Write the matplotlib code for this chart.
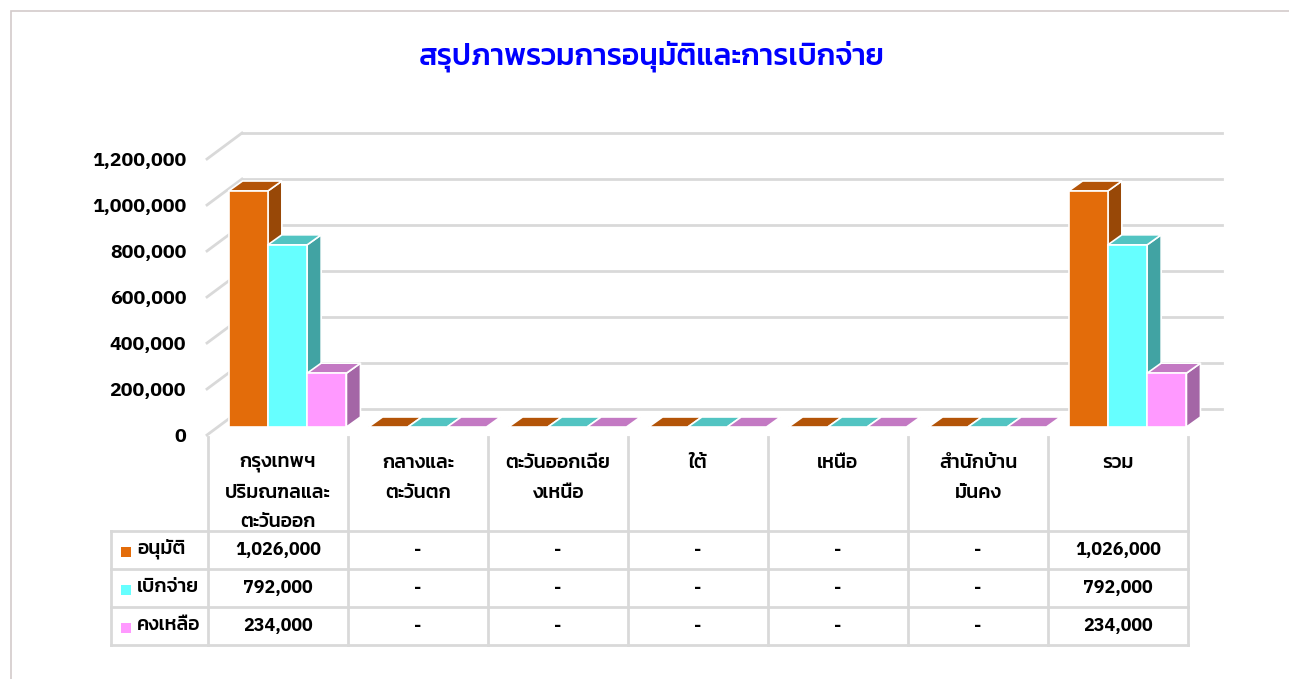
import matplotlib
matplotlib.use("Agg")
import matplotlib.pyplot as plt
from matplotlib.patches import Polygon, Rectangle

# ---- data ----
categories = ["กรุงเทพฯ\nปริมณฑลและ\nตะวันออก", "กลางและ\nตะวันตก",
              "ตะวันออกเฉีย\nงเหนือ", "ใต้", "เหนือ", "สำนักบ้าน\nมั่นคง", "รวม"]
series_names = ["อนุมัติ", "เบิกจ่าย", "คงเหลือ"]
approved = [1026000, 0, 0, 0, 0, 0, 1026000]
disbursed = [792000, 0, 0, 0, 0, 0, 792000]
remaining = [234000, 0, 0, 0, 0, 0, 234000]
yticks = [0, 200000, 400000, 600000, 800000, 1000000, 1200000]
title = "สรุปภาพรวมการอนุมัติและการเบิกจ่าย"

front_colors = ["#E36C0A", "#66FFFF", "#FF99FF"]
top_colors = ["#B35408", "#52C4C2", "#C379C3"]
side_colors = ["#984807", "#41A3A3", "#A466A6"]
grid_color = "#D9D9D9"

thai = ["Kanit", "DejaVu Sans"]
nums = ["IBM Plex Sans Thai", "DejaVu Sans"]
plt.rcParams["font.family"] = nums

W, H = 1289, 679
fig = plt.figure(figsize=(W / 100, H / 100), dpi=100)

# chart border
fig.patches.append(Rectangle((11 / W, -0.1), 1.2, 1 - 11 / H + 0.1, transform=fig.transFigure,
                             fill=False, edgecolor="#D3CBCB", lw=1.2))

fig.text(652 / W, 1 - 56 / H, title, color="#0000FF", fontsize=21.7, fontweight=500,
         family=thai, ha="center", va="center")

# front plane of the 3d plot
ax = fig.add_axes([207 / W, 1 - 435 / H, 980 / W, 276 / H])
ax.set_xlim(-0.5, 6.5)
ax.set_ylim(0, 1200000)
for s in ax.spines.values():
    s.set_visible(False)
ax.set_xticks([])
ax.set_yticks(yticks)
ax.set_yticklabels([f"{v:,}" for v in yticks], fontsize=14, fontweight="bold")
ax.tick_params(axis="y", length=0, pad=15)

px_x = 7 / 980          # category units per pixel
px_y = 1200000 / 276    # value units per pixel
wall_dx, wall_dy = 35 * px_x, 26 * px_y
bar_dx, bar_dy = 14 * px_x, 10 * px_y
off_x, off_y = 10.5 * px_x, 8 * px_y
bw = 39.3 * px_x

# gridlines: left wall diagonal + back wall line
for v in yticks:
    ax.plot([-0.5, -0.5 + wall_dx], [v, v + wall_dy], color=grid_color, lw=2, clip_on=False, zorder=1)
    ax.plot([-0.5 + wall_dx, 6.5 + wall_dx], [v + wall_dy, v + wall_dy], color=grid_color, lw=2,
            clip_on=False, zorder=1)

z = 3
for i in range(len(categories)):
    for j, vals in enumerate([approved, disbursed, remaining]):
        x0 = i + off_x + (j - 1.5) * bw
        h = vals[i]
        bars = ax.bar(x0, h, width=bw, bottom=off_y, align="edge", color=front_colors[j],
                      edgecolor="white", lw=1.2, zorder=z + 2)
        x1 = x0 + bw
        top = off_y + h
        side = Polygon([(x1, off_y), (x1 + bar_dx, off_y + bar_dy), (x1 + bar_dx, top + bar_dy), (x1, top)],
                       closed=True, facecolor=side_colors[j], edgecolor="white", lw=1.2, zorder=z,
                       clip_on=False)
        tp = Polygon([(x0, top), (x1, top), (x1 + bar_dx, top + bar_dy), (x0 + bar_dx, top + bar_dy)],
                     closed=True, facecolor=top_colors[j], edgecolor="white", lw=1.2, zorder=z + 1,
                     clip_on=False)
        if h > 0:
            ax.add_patch(side)
        else:
            bars[0].set_visible(False)
        ax.add_patch(tp)
        z += 3

# ---- data table ----
leg_w = 97 / 140
tax = fig.add_axes([111 / W, 1 - 645 / H, 1077 / W, 208 / H])
tax.set_xlim(-0.5 - leg_w, 6.5)
tax.set_ylim(208, 0)
tax.axis("off")
row_lines = [94, 132, 170, 208]
for k in range(len(categories) + 1):
    tax.plot([-0.5 + k, -0.5 + k], [0, 208], color=grid_color, lw=2, clip_on=False)
tax.plot([-0.5 - leg_w] * 2, [94, 208], color=grid_color, lw=2, clip_on=False)
for r in row_lines:
    tax.plot([-0.5 - leg_w, 6.5], [r, r], color=grid_color, lw=2, clip_on=False)

for i, c in enumerate(categories):
    tax.text(i, 18, c, ha="center", va="top", fontsize=14, fontweight=500, family=thai,
             linespacing=1.98)

for j, (name, vals) in enumerate(zip(series_names, [approved, disbursed, remaining])):
    yc = (row_lines[j] + row_lines[j + 1]) / 2
    tax.add_patch(Rectangle((-0.5 - leg_w + 10 * px_x, yc - 3), 10 * px_x, 10,
                            facecolor=front_colors[j], edgecolor="none"))
    tax.text(-0.5 - leg_w + 26 * px_x, yc - 1, name, ha="left", va="center", fontsize=14,
             fontweight=500, family=thai)
    for i, v in enumerate(vals):
        tax.text(i, yc, f"{v:,}" if v else "-", ha="center", va="center", fontsize=13, fontweight="bold")

fig.savefig("out.png", dpi=100)
